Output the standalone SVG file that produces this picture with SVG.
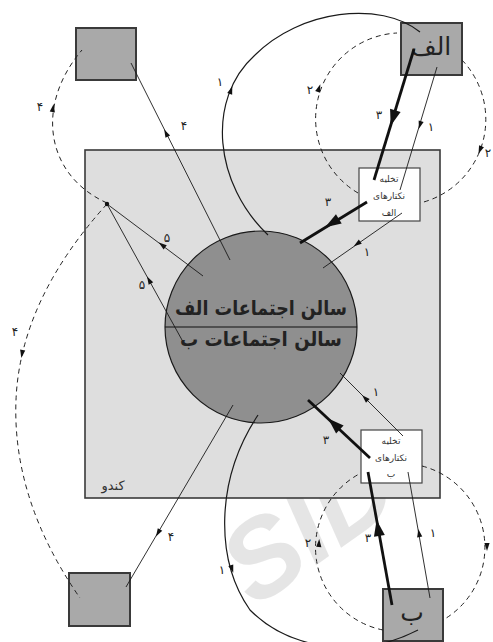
<svg xmlns="http://www.w3.org/2000/svg" xmlns:xlink="http://www.w3.org/1999/xlink" width="493" height="642" viewBox="0 0 493 642">
<style>
.hive{fill:#dedede;stroke:#3a3a3a;stroke-width:1.6}
.hall{fill:#8f8f8f;stroke:#1a1a1a;stroke-width:1.2}
.sq{fill:#a9a9a9;stroke:#3a3a3a;stroke-width:2}
.box{fill:#ffffff;stroke:#444;stroke-width:1.2}
.thin{fill:none;stroke:#1a1a1a;stroke-width:0.9}
.thick{fill:none;stroke:#111;stroke-width:2.8}
.curve{fill:none;stroke:#1a1a1a;stroke-width:1.2}
.dash{fill:none;stroke:#222;stroke-width:1;stroke-dasharray:5 4}
.lbl{font-family:"DejaVu Sans",sans-serif;font-size:12px;fill:#222;text-anchor:middle}
.bt{font-family:"DejaVu Sans",sans-serif;font-size:9px;fill:#333;text-anchor:middle}
.big{font-family:"DejaVu Sans",sans-serif;font-weight:bold;font-size:20px;fill:#222;text-anchor:middle}
.sqt{font-family:"DejaVu Sans",sans-serif;font-size:25px;fill:#222;text-anchor:middle}
.ah{fill:#111}
</style>
<defs>
<path id="a" d="M4,0 L-4,-2.6 L-4,2.6 Z"/>
<path id="A" d="M8,0 L-8,-5.5 L-8,5.5 Z"/>
</defs>
<rect width="493" height="642" fill="#ffffff"/>
<text x="310" y="562" transform="rotate(-35 310 528)" font-family="Liberation Sans,sans-serif" font-weight="bold" font-style="italic" font-size="110" fill="#d4d4d4" fill-opacity="0.6" text-anchor="middle">SID</text>

<g id="hive">
<rect class="hive" x="85" y="150" width="355" height="348"/>
<text x="113" y="490" font-family="DejaVu Sans,sans-serif" font-size="13" fill="#333" text-anchor="middle">کندو</text>
</g>

<g id="hall">
<circle class="hall" cx="261" cy="327" r="96"/>
<line x1="165" y1="327" x2="357" y2="327" stroke="#111" stroke-width="1.2"/>
<text class="big" x="261" y="315" textLength="172" lengthAdjust="spacingAndGlyphs">سالن اجتماعات الف</text>
<text class="big" x="261" y="346" textLength="162" lengthAdjust="spacingAndGlyphs">سالن اجتماعات ب</text>
</g>

<g id="unload-a">
<rect class="box" x="359" y="168" width="61" height="53"/>
<text class="bt" x="389" y="182">تخلیه</text>
<text class="bt" x="389" y="199">نکتارهای</text>
<text class="bt" x="389" y="216">الف</text>
</g>

<g id="unload-b">
<rect class="box" x="361" y="430" width="61" height="53"/>
<text class="bt" x="391" y="444">تخلیه</text>
<text class="bt" x="391" y="461">نکتارهای</text>
<text class="bt" x="391" y="477">ب</text>
</g>

<g id="sq-topleft"><rect class="sq" x="76" y="28" width="60" height="52"/></g>
<g id="sq-bottomleft"><rect class="sq" x="69" y="573" width="61" height="53"/></g>
<g id="sq-a"><rect class="sq" x="401" y="23" width="61" height="52"/><text class="sqt" x="431" y="55">الف</text></g>
<g id="sq-b"><rect class="sq" x="383" y="589" width="60" height="52"/><text class="sqt" x="412" y="621">ب</text></g>

<g id="connectors">
<!-- dashed loops -->
<path class="dash" d="M107,203 C45,175 35,105 82,50"/>
<path class="dash" d="M107,204 Q20,300 16,400 Q12,500 80,598"/>
<path class="dash" d="M358,193 A86,86 0 0 1 397,33"/>
<path class="dash" d="M462,60 A86,86 0 0 1 420,203"/>
<path class="dash" d="M383,630 A84,84 0 0 1 361,473"/>
<path class="dash" d="M422,466 A84,84 0 0 1 443,620"/>
<!-- solid curves -->
<path class="curve" d="M268,235 C215,185 205,100 255,55 C300,10 380,0 420,32"/>
<path class="curve" d="M258,415 C215,480 215,560 250,610 C290,650 360,660 418,630"/>
<!-- straight lines -->
<line class="thin" x1="230" y1="260" x2="131" y2="63"/>
<line class="thin" x1="107" y1="204" x2="203" y2="276"/>
<line class="thin" x1="107" y1="204" x2="182" y2="340"/>
<line class="thick" x1="414" y1="49" x2="374" y2="180"/>
<line class="thin" x1="437" y1="67" x2="400" y2="190"/>
<line class="thick" x1="367" y1="202" x2="300" y2="243"/>
<line class="thin" x1="402" y1="213" x2="323" y2="268"/>
<line class="thin" x1="403" y1="436" x2="340" y2="373"/>
<line class="thick" x1="370" y1="458" x2="308" y2="400"/>
<line class="thick" x1="392" y1="605" x2="368" y2="472"/>
<line class="thin" x1="430" y1="598" x2="408" y2="472"/>
<line class="thin" x1="233" y1="405" x2="126" y2="587"/>
<circle cx="107" cy="204" r="2.2" fill="#111"/>
<!-- arrowheads -->
<use href="#a" class="ah" transform="translate(166,133) rotate(-116.7)"/>
<use href="#a" class="ah" transform="translate(162,245) rotate(-143)"/>
<use href="#a" class="ah" transform="translate(149,280) rotate(-119)"/>
<use href="#A" class="ah" transform="translate(393,118) rotate(107)"/>
<use href="#a" class="ah" transform="translate(420,125) rotate(106.7)"/>
<use href="#A" class="ah" transform="translate(332,223) rotate(148.5)"/>
<use href="#a" class="ah" transform="translate(357,244) rotate(145)"/>
<use href="#a" class="ah" transform="translate(365,398) rotate(-135)"/>
<use href="#A" class="ah" transform="translate(334,424) rotate(-137)"/>
<use href="#A" class="ah" transform="translate(378,528) rotate(-100)"/>
<use href="#a" class="ah" transform="translate(419,533) rotate(-100)"/>
<use href="#a" class="ah" transform="translate(158,533) rotate(120.5)"/>
<use href="#a" class="ah" transform="translate(53,108) rotate(-80)"/>
<use href="#a" class="ah" transform="translate(22,354) rotate(100)"/>
<use href="#a" class="ah" transform="translate(319,88) rotate(-70.5)"/>
<use href="#a" class="ah" transform="translate(480,150) rotate(112)"/>
<use href="#a" class="ah" transform="translate(319,543) rotate(-87)"/>
<use href="#a" class="ah" transform="translate(487,547) rotate(90)"/>
<use href="#a" class="ah" transform="translate(231,90) rotate(-71)"/>
<use href="#a" class="ah" transform="translate(232,569) rotate(72)"/>
<!-- labels -->
<text class="lbl" x="184" y="130">۴</text>
<text class="lbl" x="40" y="111">۴</text>
<text class="lbl" x="220" y="86">۱</text>
<text class="lbl" x="310" y="94">۲</text>
<text class="lbl" x="379" y="119">۳</text>
<text class="lbl" x="431" y="131">۱</text>
<text class="lbl" x="488" y="157">۲</text>
<text class="lbl" x="328" y="206">۳</text>
<text class="lbl" x="367" y="256">۱</text>
<text class="lbl" x="167" y="242">۵</text>
<text class="lbl" x="142" y="289">۵</text>
<text class="lbl" x="15" y="336">۴</text>
<text class="lbl" x="376" y="396">۱</text>
<text class="lbl" x="326" y="444">۳</text>
<text class="lbl" x="171" y="541">۴</text>
<text class="lbl" x="222" y="574">۱</text>
<text class="lbl" x="308" y="547">۲</text>
<text class="lbl" x="368" y="542">۳</text>
<text class="lbl" x="433" y="537">۱</text>
</g>
</svg>
